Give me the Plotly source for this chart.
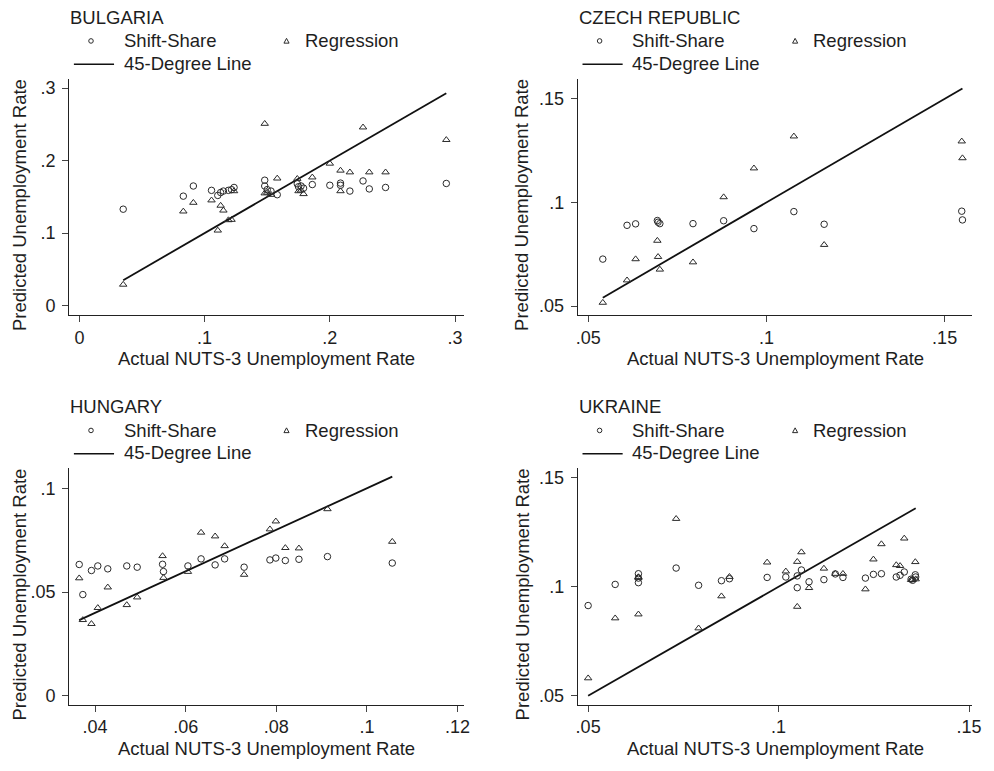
import plotly.graph_objects as go

W, H = 994, 771

# ---------------- data ----------------
# Bulgaria
bg_actual = [0.035, 0.083, 0.091, 0.1055, 0.1105, 0.1128, 0.115, 0.119, 0.1215, 0.1235,
             0.148, 0.148, 0.150, 0.153, 0.158, 0.174, 0.175, 0.177, 0.179, 0.186,
             0.200, 0.2085, 0.2085, 0.216, 0.2265, 0.2315, 0.2445, 0.293]
bg_shift_share = [0.133, 0.151, 0.165, 0.159, 0.152, 0.156, 0.158, 0.159, 0.160, 0.163,
                  0.173, 0.165, 0.160, 0.158, 0.153, 0.168, 0.164, 0.165, 0.162, 0.167,
                  0.166, 0.169, 0.166, 0.158, 0.172, 0.161, 0.163, 0.1685]
bg_regression = [0.029, 0.130, 0.142, 0.1453, 0.1037, 0.138, 0.1313, 0.118, 0.1185, 0.158,
                 0.251, 0.155, 0.156, 0.153, 0.1755, 0.175, 0.158, 0.159, 0.154, 0.177,
                 0.196, 0.1864, 0.158, 0.184, 0.246, 0.184, 0.184, 0.2287]

# Czech Republic
cz_actual = [0.0541, 0.0609, 0.0633, 0.0694, 0.0696, 0.0701, 0.0794, 0.0880, 0.0965,
             0.1077, 0.1162, 0.1548, 0.1550]
cz_shift_share = [0.0727, 0.0890, 0.0897, 0.0913, 0.0905, 0.0898, 0.0898, 0.0912, 0.0874,
                  0.0956, 0.0895, 0.0958, 0.0916]
cz_regression = [0.0517, 0.0625, 0.0727, 0.0816, 0.0738, 0.0677, 0.0712, 0.1026, 0.1165,
                 0.1319, 0.0796, 0.1295, 0.1214]

# Hungary
hu_actual = [0.0365, 0.0373, 0.0392, 0.0406, 0.0428, 0.0470, 0.0493, 0.0549, 0.0551, 0.0605,
             0.0634, 0.0665, 0.0686, 0.0729, 0.0786, 0.0799, 0.0820, 0.0850, 0.0913, 0.1056]
hu_shift_share = [0.0633, 0.0488, 0.0604, 0.0626, 0.0612, 0.0626, 0.0620, 0.0634, 0.0599, 0.0626,
                  0.0660, 0.0631, 0.0660, 0.0620, 0.0655, 0.0664, 0.0652, 0.0658, 0.0671, 0.0640]
hu_regression = [0.0567, 0.0366, 0.0347, 0.0424, 0.0523, 0.0438, 0.0475, 0.0674, 0.0569, 0.0598,
                 0.0787, 0.0769, 0.0722, 0.0584, 0.0803, 0.0841, 0.0713, 0.0711, 0.0900, 0.0743]

# Ukraine
ua_actual = [0.0500, 0.0571, 0.0632, 0.0632, 0.0632, 0.0731, 0.0790, 0.0850, 0.0871, 0.0970,
             0.1019, 0.1049, 0.1049, 0.1060, 0.1080, 0.1119, 0.1149, 0.1169, 0.1228, 0.1249,
             0.1270, 0.1309, 0.1319, 0.1330, 0.1348, 0.1352, 0.1359, 0.1360]
ua_shift_share = [0.0914, 0.1011, 0.1060, 0.1040, 0.1019, 0.1086, 0.1007, 0.1028, 0.1037, 0.1043,
                  0.1045, 0.1050, 0.0996, 0.1077, 0.1023, 0.1033, 0.1059, 0.1043, 0.1040, 0.1057,
                  0.1060, 0.1045, 0.1053, 0.1068, 0.1035, 0.1030, 0.1055, 0.1045]
ua_regression = [0.0581, 0.0856, 0.0874, 0.1045, 0.1042, 0.1312, 0.0810, 0.0957, 0.1046, 0.1112,
                 0.1071, 0.1115, 0.0909, 0.1159, 0.0995, 0.1084, 0.1060, 0.1060, 0.0989, 0.1126,
                 0.1196, 0.1100, 0.1096, 0.1222, 0.1032, 0.1032, 0.1114, 0.1035]

# tick values / labels
bg_ticks = [0, 0.1, 0.2, 0.3];            bg_ticklabels = ["0", ".1", ".2", ".3"]
cz_ticks = [0.05, 0.1, 0.15];             cz_ticklabels = [".05", ".1", ".15"]
hu_xticks = [0.04, 0.06, 0.08, 0.1, 0.12]; hu_xticklabels = [".04", ".06", ".08", ".1", ".12"]
hu_yticks = [0, 0.05, 0.1];               hu_yticklabels = ["0", ".05", ".1"]
ua_ticks = [0.05, 0.1, 0.15];             ua_ticklabels = [".05", ".1", ".15"]

x_title = "Actual NUTS-3 Unemployment Rate"
y_title = "Predicted Unemployment Rate"
legend_names = ["Shift-Share", "Regression", "45-Degree Line"]

# ---------------- layout helpers ----------------
FONT = "Liberation Sans, Arial, Helvetica, sans-serif"
TXT = "#1e1e1e"
FS = 18.5
TFS = 18


def px(x):
    return x / W


def py(y):
    return 1 - y / H


panels = [
    dict(name="BULGARIA", x=bg_actual, ss=bg_shift_share, reg=bg_regression,
         xr=[-0.0081, 0.307], yr=[-0.0134, 0.3128],
         xt=bg_ticks, xl=bg_ticklabels, yt=bg_ticks, yl=bg_ticklabels,
         ox=0, oy=0, ytx=17.5),
    dict(name="CZECH REPUBLIC", x=cz_actual, ss=cz_shift_share, reg=cz_regression,
         xr=[0.0471, 0.1578], yr=[0.0456, 0.1596],
         xt=cz_ticks, xl=cz_ticklabels, yt=cz_ticks, yl=cz_ticklabels,
         ox=514.3, oy=0, ytx=526),
    dict(name="HUNGARY", x=hu_actual, ss=hu_shift_share, reg=hu_regression,
         xr=[0.0343, 0.1214], yr=[-0.0043, 0.1096],
         xt=hu_xticks, xl=hu_xticklabels, yt=hu_yticks, yl=hu_yticklabels,
         ox=0, oy=390, ytx=17.5),
    dict(name="UKRAINE", x=ua_actual, ss=ua_shift_share, reg=ua_regression,
         xr=[0.0473, 0.1509], yr=[0.0459, 0.1543],
         xt=ua_ticks, xl=ua_ticklabels, yt=ua_ticks, yl=ua_ticklabels,
         ox=514.3, oy=390, ytx=526),
]

fig = go.Figure()
shapes = []
annotations = []
MK = "#2a2a2a"

for i, p in enumerate(panels, start=1):
    xa = "x" if i == 1 else f"x{i}"
    ya = "y" if i == 1 else f"y{i}"
    ox, oy = p["ox"], p["oy"]

    lo, hi = min(p["x"]), max(p["x"])
    fig.add_trace(go.Scatter(x=[lo, hi], y=[lo, hi], mode="lines",
                             line=dict(color="#111", width=1.8),
                             xaxis=xa, yaxis=ya, showlegend=False, hoverinfo="skip"))
    fig.add_trace(go.Scatter(x=p["x"], y=p["ss"], mode="markers", name=legend_names[0],
                             marker=dict(symbol="circle-open", size=6.5, color=MK,
                                         line=dict(width=1, color=MK)),
                             xaxis=xa, yaxis=ya, showlegend=False))
    fig.add_trace(go.Scatter(x=p["x"], y=p["reg"], mode="markers", name=legend_names[1],
                             marker=dict(symbol="triangle-up-open", size=6.5, color=MK,
                                         line=dict(width=1, color=MK)),
                             xaxis=xa, yaxis=ya, showlegend=False))

    x0, x1 = 68 + ox, 467 + ox
    y0, y1 = 79 + oy, 315.7 + oy
    common = dict(showline=True, linecolor="#222", linewidth=1.1, ticks="outside",
                  ticklen=6, tickwidth=1, tickcolor="#444", showgrid=False,
                  zeroline=False, tickfont=dict(family=FONT, size=TFS, color=TXT),
                  fixedrange=True, tickmode="array")
    fig.update_layout(**{
        ("xaxis" if i == 1 else f"xaxis{i}"): dict(
            domain=[px(x0), px(x1)], range=p["xr"], anchor=ya,
            tickvals=p["xt"], ticktext=p["xl"], **common),
        ("yaxis" if i == 1 else f"yaxis{i}"): dict(
            domain=[py(y1), py(y0)], range=p["yr"], anchor=xa,
            tickvals=p["yt"], ticktext=p["yl"], ticklabelstandoff=3, **common),
    })

    def label(text, x, y, anchor="left", angle=0):
        annotations.append(dict(text=text, x=px(x), y=py(y), xref="paper", yref="paper",
                                xanchor=anchor, yanchor="middle", showarrow=False,
                                borderpad=0, textangle=angle,
                                font=dict(family=FONT, size=FS, color=TXT)))

    # panel title and legend
    label(p["name"], 68 + ox, 17.5 + oy)
    label(legend_names[0], 122 + ox, 41 + oy)
    label(legend_names[1], 305 + ox, 41 + oy)
    label(legend_names[2], 122 + ox, 63.5 + oy)
    cx, cy = 90 + ox, 41 + oy
    shapes.append(dict(type="circle", xref="paper", yref="paper",
                       x0=px(cx - 2.3), x1=px(cx + 2.3), y0=py(cy + 2.3), y1=py(cy - 2.3),
                       line=dict(color=MK, width=1)))
    tx, ty = 287.7 + ox, 41 + oy
    shapes.append(dict(type="path", xref="paper", yref="paper",
                       path=f"M {px(tx - 2.6)} {py(ty + 2.2)} L {px(tx + 2.6)} {py(ty + 2.2)} "
                            f"L {px(tx)} {py(ty - 2.6)} Z",
                       line=dict(color=MK, width=1)))
    shapes.append(dict(type="line", xref="paper", yref="paper",
                       x0=px(72.7 + ox), x1=px(113.3 + ox), y0=py(64.3 + oy), y1=py(64.3 + oy),
                       line=dict(color="#111", width=1.5)))
    # axis titles
    label(x_title, (x0 + x1) / 2, 359 + oy, anchor="center")
    label(y_title, p["ytx"], 205 + oy, anchor="center", angle=-90)

fig.update_layout(width=W, height=H, margin=dict(l=0, r=0, t=0, b=0),
                  paper_bgcolor="white", plot_bgcolor="white", showlegend=False,
                  shapes=shapes, annotations=annotations,
                  font=dict(family=FONT, size=FS, color=TXT))

fig.write_html("out.html", config={"displayModeBar": False, "staticPlot": True},
               post_script="document.body.style.margin='0';document.body.style.overflow='hidden';")
